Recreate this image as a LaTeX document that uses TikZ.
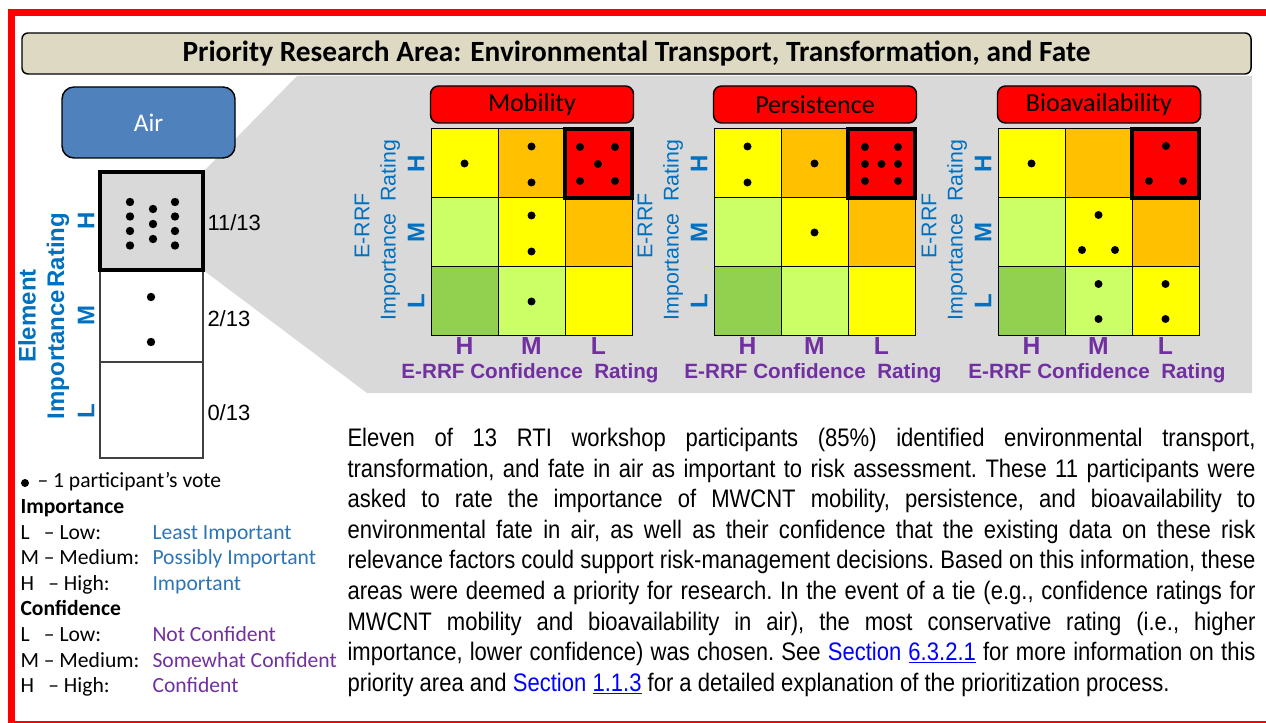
\documentclass[tikz,border=0pt]{standalone}
\usepackage{fontspec}
\setmainfont{Liberation Sans}
\newfontfamily\calfont{Carlito}
\newfontfamily\narrowfont[FakeStretch=0.87]{Liberation Sans}

\definecolor{bannertan}{HTML}{DDD9C3}
\definecolor{zoomgrey}{HTML}{D9D9D9}
\definecolor{airblue}{HTML}{4F81BD}
\definecolor{axisblue}{HTML}{0070C0}
\definecolor{axispurple}{HTML}{7030A0}
\definecolor{legblue}{HTML}{2E75B6}
\definecolor{linkblue}{HTML}{0000FF}
\definecolor{lev0}{HTML}{92D050}
\definecolor{lev1}{HTML}{CCFF66}
\definecolor{lev2}{HTML}{FFFF00}
\definecolor{lev3}{HTML}{FFC000}
\definecolor{lev4}{HTML}{FF0000}

\tikzset{every picture/.style={line width=0.75pt}}

\begin{document}
\begin{tikzpicture}[x=0.75pt,y=0.75pt,yscale=-1,
  banner/.style={draw=black, fill=bannertan, rounded corners=4.5pt, line width=1.1pt, minimum width=921.75pt, minimum height=30.75pt, inner sep=0, font=\calfont\bfseries\fontsize{22}{24}\selectfont},
  airbox/.style={draw=black, fill=airblue, rounded corners=9pt, line width=1.1pt, minimum width=129.75pt, minimum height=53.25pt, text=white, font=\calfont\fontsize{19}{20}\selectfont},
  factorbox/.style={draw=black, fill=red, rounded corners=6pt, line width=1.1pt, minimum width=152.25pt, minimum height=27.75pt, inner sep=0, font=\calfont\fontsize{19.5}{20}\selectfont},
  axislab/.style={text=axisblue, font=\bfseries\fontsize{18}{20}\selectfont, inner sep=0, rotate=90},
  axisname/.style={text=axisblue, font=\fontsize{16}{18}\selectfont, inner sep=0, rotate=90},
  conflab/.style={text=axispurple, font=\bfseries\fontsize{18.5}{20}\selectfont, inner sep=0},
  confname/.style={text=axispurple, font=\bfseries\fontsize{15.5}{18}\selectfont, inner sep=0},
  tally/.style={font=\fontsize{16.5}{18}\selectfont, anchor=west, inner sep=0},
  legend/.style={font=\calfont\fontsize{16.2}{18}\selectfont, anchor=west, inner sep=0, text height=1.5ex, text depth=0.3ex},
  vote/.style={fill=black},
]
\useasboundingbox (0,0) rectangle (1266,723);

%Shape: Red frame
\draw[red, line width=5.25pt] (8,12.5) -- (1266,12.5) ;
\draw[red, line width=5.25pt] (11.5,9) -- (11.5,723) ;
\draw[red, line width=1.5pt] (8,721.5) -- (1266,721.5) ;

%Shape: Zoom wedge
\fill[zoomgrey] (297,76) -- (1252,76) -- (1252,393) -- (367,393) -- (203,270) -- (203,172) -- cycle ;

% Text Node
\node[banner] (banner) at (636.5,53.5) {Priority Research Area: Environmental Transport, Transformation, and Fate};
% Text Node
\node[airbox] (air) at (148.5,122.5) {Air};

%Shape: Element importance column
\draw[draw=black!75, line width=0.9pt] (100,362) rectangle (203,458) ;
\draw[draw=black!75, line width=0.9pt] (100,270) rectangle (203,362) ;
\draw[fill=zoomgrey, line width=3pt] (100,172) rectangle (203,270) ;
\foreach \vy in {202,216.5,231,245.5} {
  \fill[vote] (130,\vy) circle (4.2) ;
  \fill[vote] (175,\vy) circle (4.2) ;
}
\foreach \vy in {209,224,239} \fill[vote] (153,\vy) circle (4.2) ;
\fill[vote] (151,297) circle (4.2) ;
\fill[vote] (151,342) circle (4.2) ;

% Text Node
\node[tally] (tallyH) at (207,223) {11/13};
\node[tally] (tallyM) at (207,319) {2/13};
\node[tally] (tallyL) at (207,413) {0/13};
% Text Node
\node[axislab] (elem) at (27,316) {Element};
\node[axislab] (elemimp) at (58,316) {Importance\hspace{0.1em}Rating};
\node[axislab] (elemH) at (86,221) {H};
\node[axislab] (elemM) at (86,316) {M};
\node[axislab] (elemL) at (86,411) {L};

%Shape: Risk matrices
\foreach \gx/\gid/\gtitle in {431/mob/Mobility,714/per/Persistence,998/bio/Bioavailability} {
  \node[factorbox] (\gid-title) at (\gx+101,104.5) {\gtitle};
  \foreach \r in {0,1,2} {
    \foreach \c in {0,1,2} {
      \pgfmathtruncatemacro\lev{\c-\r+2}
      \draw[fill=lev\lev] (\gx+67*\c,129+69*\r) rectangle ++(67,69) ;
    }
  }
  \draw[line width=2.6pt] (\gx+134,129) rectangle ++(67,69) ;
  \node[axislab] (\gid-rowH) at (\gx-15,163.5) {H};
  \node[axislab] (\gid-rowM) at (\gx-15,232.5) {M};
  \node[axislab] (\gid-rowL) at (\gx-15,301.5) {L};
  \node[axisname] (\gid-imp) at (\gx-41,230) {Importance\ \ Rating};
  \node[axisname] (\gid-errf) at (\gx-69,226) {E-RRF};
  \node[conflab] (\gid-colH) at (\gx+33.5,346) {H};
  \node[conflab] (\gid-colM) at (\gx+100.5,346) {M};
  \node[conflab] (\gid-colL) at (\gx+167.5,346) {L};
  \node[confname] (\gid-conf) at (\gx+99,373) {E-RRF Confidence\ \ Rating};
}

%Shape: Votes, mobility
\begin{scope}[shift={(431,129)}]
\foreach \vx/\vy in {33.5/34.5, 100.5/17.5, 100.5/53.5, 149/18, 184/18, 167/35, 149/52, 184/52, 100.5/86.5, 100.5/122.5, 100.5/172.5}
  \fill[vote] (\vx,\vy) circle (4) ;
\end{scope}
%Shape: Votes, persistence
\begin{scope}[shift={(714,129)}]
\foreach \vx/\vy in {33.5/17.5, 33.5/53.5, 100.5/34.5, 151/18, 184/18, 151/35, 167.5/35, 184/35, 151/52, 184/52, 100.5/103.5}
  \fill[vote] (\vx,\vy) circle (4) ;
\end{scope}
%Shape: Votes, bioavailability
\begin{scope}[shift={(998,129)}]
\foreach \vx/\vy in {33.5/34.5, 168/17, 151/52, 185/52, 100.5/86, 84/121, 117/121, 100.5/155, 100.5/190, 167.5/155, 167.5/190}
  \fill[vote] (\vx,\vy) circle (4) ;
\end{scope}

%Shape: Legend
\fill[vote] (25,483) circle (4) ;
\node[legend] (leg-vote) at (37,483) {– 1 participant’s vote};
\node[legend, font=\calfont\bfseries\fontsize{16.2}{18}\selectfont] (leg-imp) at (20,509) {Importance};
\node[legend] (leg-iL) at (20,535) {L\enspace\,– Low:};
\node[legend] (leg-iM) at (20,560) {M – Medium:};
\node[legend] (leg-iH) at (20,586) {H\enspace\,– High:};
\node[legend, text=legblue] (leg-iLd) at (152,535) {Least Important};
\node[legend, text=legblue] (leg-iMd) at (152,560) {Possibly Important};
\node[legend, text=legblue] (leg-iHd) at (152,586) {Important};
\node[legend, font=\calfont\bfseries\fontsize{16.2}{18}\selectfont] (leg-conf) at (20,611) {Confidence};
\node[legend] (leg-cL) at (20,637) {L\enspace\,– Low:};
\node[legend] (leg-cM) at (20,663) {M – Medium:};
\node[legend] (leg-cH) at (20,688) {H\enspace\,– High:};
\node[legend, text=axispurple] (leg-cLd) at (152,637) {Not Confident};
\node[legend, text=axispurple] (leg-cMd) at (152,663) {Somewhat Confident};
\node[legend, text=axispurple] (leg-cHd) at (152,688) {Confident};

% Text Node
\node[anchor=north west, inner sep=0, text width=681pt, align=justify, font=\narrowfont\fontsize{19}{22.9}\selectfont] (para) at (347,428) {\frenchspacing
Eleven of 13 RTI workshop participants (85\%) identified environmental transport,\linebreak
transformation, and fate in air as important to risk assessment. These 11 participants were\linebreak
asked to rate the importance of MWCNT mobility, persistence, and bioavailability to\linebreak
environmental fate in air, as well as their confidence that the existing data on these risk\linebreak
relevance factors could support risk-management decisions. Based on this information, these\linebreak
areas were deemed a priority for research. In the event of a tie (e.g., confidence ratings for\linebreak
MWCNT mobility and bioavailability in air), the most conservative rating (i.e., higher\linebreak
importance, lower confidence) was chosen. See \textcolor{linkblue}{Section \underline{6.3.2.1}} for more information on this\linebreak
priority area and \textcolor{linkblue}{Section \underline{1.1.3}} for a detailed explanation of the prioritization process.};

\end{tikzpicture}
\end{document}
